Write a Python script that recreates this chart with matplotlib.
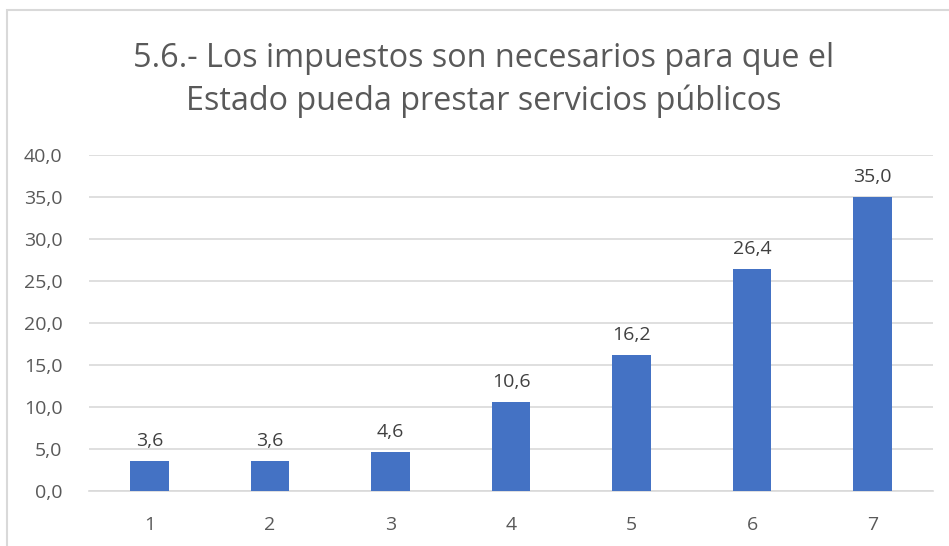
import matplotlib
matplotlib.use('Agg')
import matplotlib.pyplot as plt
from matplotlib.patches import Rectangle

categories = ['1', '2', '3', '4', '5', '6', '7']
values = [3.6, 3.6, 4.6, 10.6, 16.2, 26.4, 35.0]
yticks = [0, 5, 10, 15, 20, 25, 30, 35, 40]
title = '5.6.- Los impuestos son necesarios para que el\nEstado pueda prestar servicios públicos'

plt.rcParams['font.family'] = ['Open Sans', 'DejaVu Sans']
grey = '#595959'

fig = plt.figure(figsize=(9.49, 5.46), dpi=100)
ax = fig.add_axes([89 / 949, 1 - 491 / 546, (933 - 89) / 949, (491 - 155) / 546])

# outer chart border
fig.patches.append(Rectangle((7 / 949, -0.05), 1.0, 1 - 10 / 546 + 0.05,
                             transform=fig.transFigure, fill=False,
                             edgecolor='#d9d9d9', linewidth=1.5))

x = range(len(categories))
ax.bar(x, values, width=0.32, color='#4472c4', zorder=3)
for i, v in zip(x, values):
    ax.text(i, v + 1.3, f'{v:.1f}'.replace('.', ','), ha='center', va='bottom',
            fontsize=14, color='#404040')

ax.set_xlim(-0.5, len(categories) - 0.5)
ax.set_ylim(0, 40)
ax.set_yticks(yticks)
ax.set_yticklabels([f'{t:.1f}'.replace('.', ',') for t in yticks])
ax.set_xticks(list(x))
ax.set_xticklabels(categories)
ax.tick_params(axis='both', length=0, labelsize=14, labelcolor=grey)
ax.tick_params(axis='x', pad=18)
ax.tick_params(axis='y', pad=19)
ax.grid(axis='y', color='#d9d9d9', linewidth=1.2, zorder=0)
for s in ['top', 'right', 'left']:
    ax.spines[s].set_visible(False)
ax.spines['bottom'].set_color('#d9d9d9')
ax.spines['bottom'].set_linewidth(1.2)

fig.text(484 / 949, 1 - 80 / 546, title, ha='center', va='center',
         fontsize=23.3, color=grey, linespacing=1.35)

fig.savefig('out.png', dpi=100)
